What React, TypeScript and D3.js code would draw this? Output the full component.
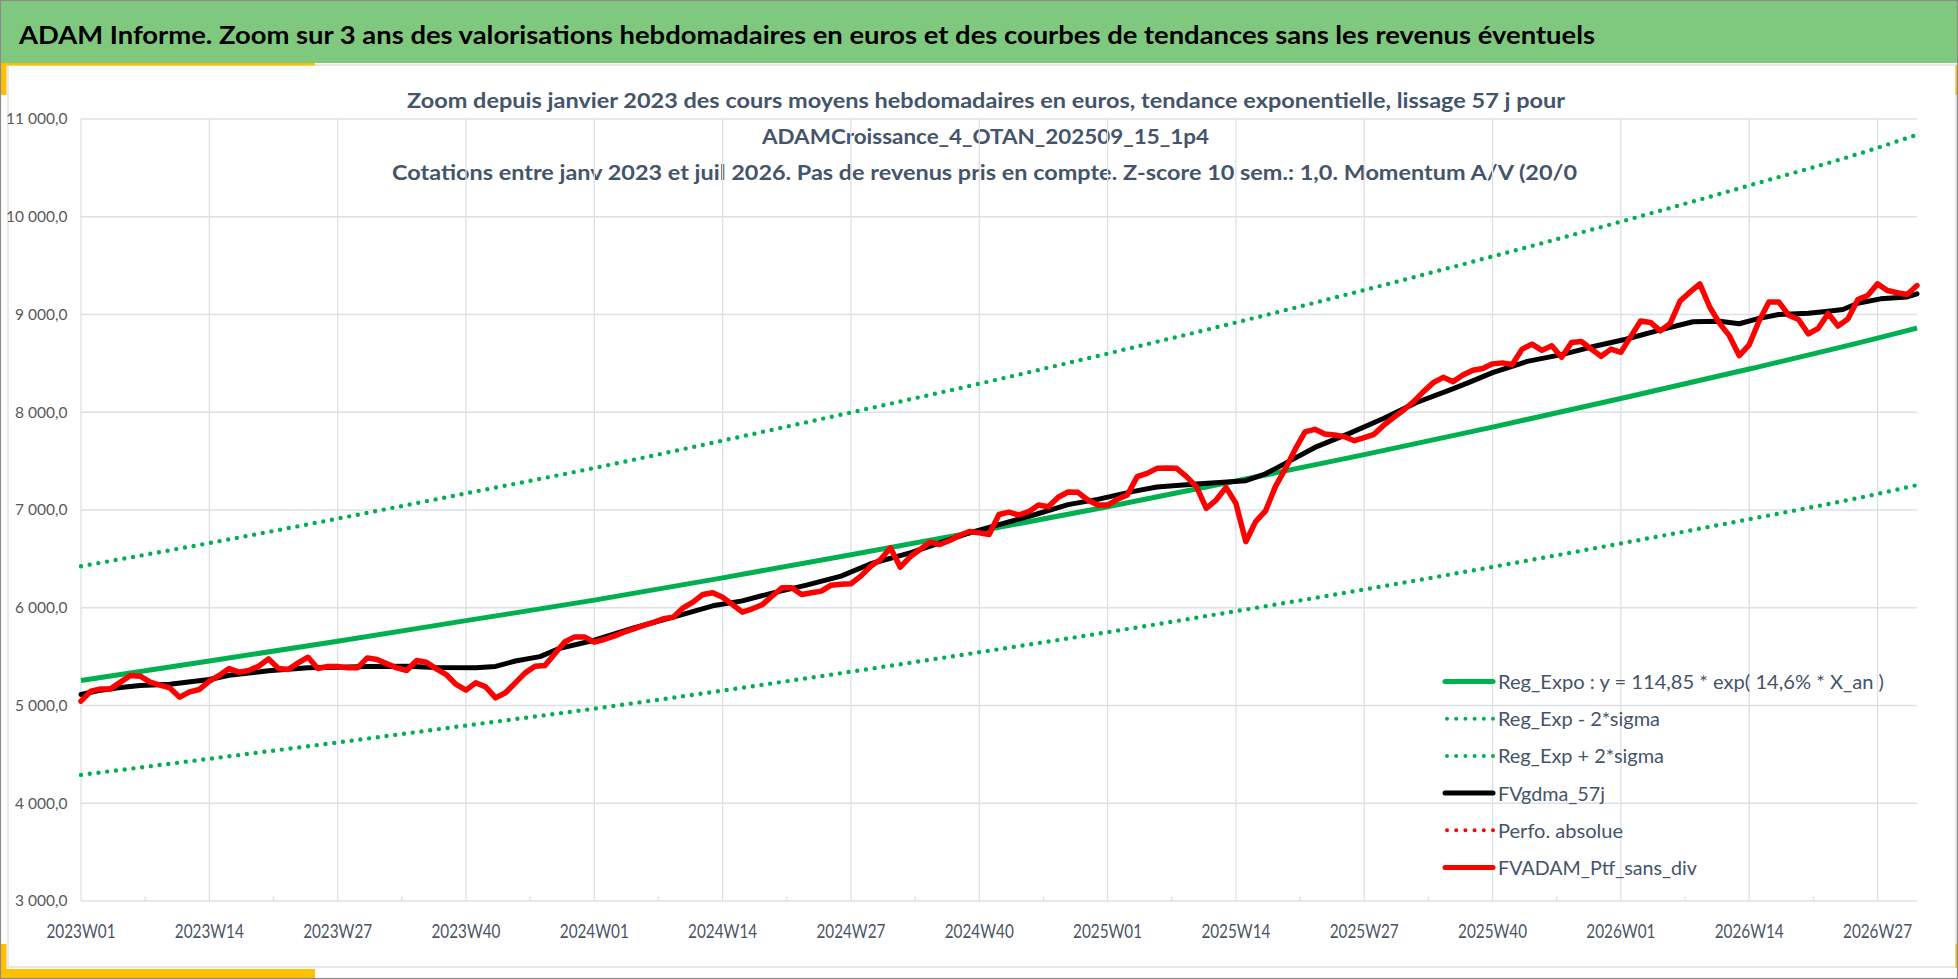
import React from "react";
import * as d3 from "d3";

// ---------------- DATA ----------------
const titleText =
  "ADAM Informe. Zoom sur 3 ans des valorisations hebdomadaires en euros et des courbes de tendances sans les revenus éventuels";
const subtitleLines = [
  "Zoom depuis janvier 2023 des cours moyens hebdomadaires  en euros, tendance exponentielle, lissage 57 j pour",
  "ADAMCroissance_4_OTAN_202509_15_1p4",
  "Cotations  entre janv 2023 et juil 2026. Pas de revenus pris en compte. Z-score 10 sem.: 1,0. Momentum A/V (20/0",
];

const xTickLabels = [
  "2023W01", "2023W14", "2023W27", "2023W40",
  "2024W01", "2024W14", "2024W27", "2024W40",
  "2025W01", "2025W14", "2025W27", "2025W40",
  "2026W01", "2026W14", "2026W27",
];
const weeksPerTick = 13;
const lastWeek = 186;
const yTicks = [3000, 4000, 5000, 6000, 7000, 8000, 9000, 10000, 11000];

// trend curves read at each labelled week
const trendWeeks = [0, 13, 26, 39, 52, 65, 78, 91, 104, 117, 130, 143, 156, 169, 182, 186];
const regExpo = [5256, 5455, 5658, 5868, 6078, 6306, 6542, 6784, 7034, 7296, 7566, 7848, 8140, 8442, 8758, 8862];
const regMinus2Sigma = [4290, 4455, 4622, 4795, 4968, 5153, 5346, 5545, 5750, 5965, 6187, 6418, 6658, 6906, 7165, 7255];
const regPlus2Sigma = [6425, 6662, 6912, 7170, 7430, 7710, 7998, 8292, 8600, 8918, 9250, 9594, 9950, 10320, 10705, 10840];

// smoothed 57 days moving average (week index, value)
const smaWeeks = [
  0, 2, 4, 6, 9, 13, 15, 19, 23, 26, 29, 33, 36, 40, 42, 44, 46.5, 48.5, 52, 56, 60, 64, 67, 70, 73.5, 77, 80, 84,
  87, 90, 93, 96.5, 100, 103, 106.5, 109, 113, 118, 120, 122, 125, 128.5, 132, 135.3, 138.7, 140.5, 143, 146.5, 150,
  153, 156.5, 160, 163.3, 166, 168, 170, 172, 175, 177, 178.5, 180, 182.3, 185, 186,
];
const smaValues = [
  5113, 5157, 5185, 5205, 5218, 5266, 5310, 5355, 5385, 5392, 5400, 5402, 5390, 5385, 5400, 5455, 5500, 5585, 5668,
  5795, 5904, 6020, 6070, 6150, 6231, 6323, 6450, 6562, 6664, 6766, 6850, 6949, 7055, 7109, 7188, 7235, 7266, 7300,
  7370, 7477, 7640, 7784, 7938, 8100, 8228, 8300, 8405, 8520, 8590, 8667, 8747, 8842, 8926, 8930, 8905, 8960, 9000,
  9012, 9034, 9051, 9115, 9160, 9180, 9212,
];

// weekly portfolio value without dividends, 2023W01 .. 2026W31
const ptfValues = [
  5044, 5147, 5170, 5170, 5239, 5307, 5300, 5239, 5208, 5180, 5085, 5140, 5164, 5249, 5307, 5378, 5341, 5358, 5402,
  5477, 5378, 5368, 5436, 5494, 5378, 5399, 5399, 5385, 5385, 5487, 5470, 5426, 5385, 5358, 5460, 5443, 5375, 5317,
  5215, 5157, 5232, 5191, 5078, 5130, 5232, 5334, 5402, 5409, 5530, 5650, 5702, 5702, 5648, 5675, 5710, 5750, 5784,
  5820, 5850, 5887, 5904, 5999, 6057, 6136, 6153, 6108, 6033, 5955, 5989, 6030, 6118, 6204, 6204, 6136, 6153, 6170,
  6231, 6240, 6245, 6323, 6425, 6494, 6613, 6415, 6521, 6596, 6671, 6647, 6688, 6739, 6780, 6766, 6749, 6954, 6978,
  6949, 6983, 7051, 7034, 7130, 7184, 7181, 7102, 7051, 7051, 7109, 7153, 7341, 7375, 7426, 7430, 7426, 7341, 7239,
  7017, 7102, 7232, 7068, 6676, 6881, 6990, 7239, 7420, 7620, 7800, 7825, 7777, 7767, 7750, 7709, 7740, 7774, 7870,
  7948, 8023, 8108, 8211, 8303, 8357, 8313, 8381, 8430, 8448, 8495, 8505, 8488, 8646, 8697, 8633, 8680, 8562, 8714,
  8724, 8646, 8572, 8646, 8613, 8774, 8933, 8919, 8832, 8909, 9138, 9229, 9313, 9077, 8909, 8781, 8579, 8690, 8933,
  9128, 9128, 8993, 8949, 8801, 8859, 9010, 8882, 8953, 9152, 9195, 9313, 9246, 9222, 9205, 9296,
];

const legendLabels = [
  "Reg_Expo : y = 114,85 * exp( 14,6% *  X_an )",
  "Reg_Exp - 2*sigma",
  "Reg_Exp + 2*sigma",
  "FVgdma_57j",
  "Perfo. absolue",
  "FVADAM_Ptf_sans_div",
];

// ---------------- STYLE ----------------
const W = 1958;
const H = 979;
const plot = { left: 81, right: 1917, top: 119, bottom: 901 };
const FONT = "Lato, 'Open Sans', 'DejaVu Sans', sans-serif";
const GREEN = "#00B050";
const RED = "#FF0000";
const GRID = "#DCE0E7";
const TEXT_SLATE = "#44546A";
const legendStyles = [
  { color: GREEN, dotted: false, width: 386 },
  { color: GREEN, dotted: true, width: 162 },
  { color: GREEN, dotted: true, width: 166 },
  { color: "#000000", dotted: false, width: 107 },
  { color: RED, dotted: true, width: 125 },
  { color: RED, dotted: false, width: 199 },
];

const frLocale = d3.formatLocale({ decimal: ",", thousands: "\u00a0", grouping: [3], currency: ["", "€"] });
const fmtY = frLocale.format(",.1f");

export default function App() {
  const x = d3.scaleLinear().domain([0, lastWeek]).range([plot.left, plot.right]);
  const y = d3.scaleLinear().domain([3000, 11000]).range([plot.bottom, plot.top]);

  const line = d3
    .line<[number, number]>()
    .x((d) => x(d[0]))
    .y((d) => y(d[1]));
  const smooth = d3
    .line<[number, number]>()
    .x((d) => x(d[0]))
    .y((d) => y(d[1]))
    .curve(d3.curveMonotoneX);

  const zip = (ws: number[], vs: number[]) => ws.map((w, i) => [w, vs[i]] as [number, number]);

  const majorWeeks = xTickLabels.map((_, i) => i * weeksPerTick);
  const minorWeeks = xTickLabels.map((_, i) => i * weeksPerTick + weeksPerTick / 2).filter((w) => w < lastWeek);

  const legendX0 = 1445;
  const legendX1 = 1493;
  const legendTextX = 1498;
  const legendBase0 = 689;
  const legendStep = 37.2;

  return (
    <svg
      width={W}
      height={H}
      viewBox={`0 0 ${W} ${H}`}
      style={{ position: "absolute", left: 0, top: 0, background: "#ffffff" }}
      fontFamily={FONT}
    >
      <rect x={0} y={0} width={W} height={H} fill="#ffffff" />
      {/* header */}
      <rect x={0} y={0} width={W} height={63} fill="#7FC97F" />
      <text x={19} y={43.5} fontSize={25.5} fontWeight={700} fill="#000000" textLength={1576} lengthAdjust="spacingAndGlyphs">
        {titleText}
      </text>
      {/* inner frame */}
      <rect x={8} y={65} width={1948} height={902} fill="none" stroke="#D9D9D9" strokeWidth={1.2} />
      {/* yellow accents */}
      <rect x={0} y={63} width={315} height={2.5} fill="#FFC000" />
      <rect x={0} y={63} width={6.5} height={32} fill="#FFC000" />
      <rect x={0} y={944} width={6.5} height={34} fill="#FFC000" />
      <rect x={0} y={969} width={315} height={9} fill="#FFC000" />
      <rect x={1955.5} y={65} width={2.5} height={30} fill="#FFC000" />
      <rect x={1955.5} y={944} width={2.5} height={24} fill="#FFC000" />
      {/* outer border */}
      <rect x={0.5} y={0.5} width={W - 1} height={H - 1} fill="none" stroke="#8C8C8C" strokeWidth={1.2} />

      {/* subtitles */}
      <g fill={TEXT_SLATE} fontWeight={700} fontSize={21}>
        <text x={407} y={108} textLength={1158} lengthAdjust="spacingAndGlyphs">
          {subtitleLines[0]}
        </text>
        <text x={762} y={144} textLength={447} lengthAdjust="spacingAndGlyphs">
          {subtitleLines[1]}
        </text>
        <text x={392} y={180} textLength={1185} lengthAdjust="spacingAndGlyphs">
          {subtitleLines[2]}
        </text>
      </g>

      {/* grid */}
      <g stroke={GRID} strokeWidth={1.3}>
        {yTicks.map((t) => (
          <line key={"h" + t} x1={plot.left} x2={plot.right} y1={y(t)} y2={y(t)} />
        ))}
        {majorWeeks.map((w) => (
          <line key={"v" + w} x1={x(w)} x2={x(w)} y1={plot.top} y2={plot.bottom} />
        ))}
        {minorWeeks.map((w) => (
          <line key={"m" + w} x1={x(w)} x2={x(w)} y1={plot.bottom - 4.5} y2={plot.bottom} />
        ))}
      </g>

      {/* y labels */}
      <g fill="#595959" fontSize={15.5} textAnchor="end">
        {yTicks.map((t) => (
          <text key={"yl" + t} x={67.5} y={y(t) + 5.3}>
            {fmtY(t)}
          </text>
        ))}
      </g>
      {/* x labels */}
      <g fill="#4A5465" fontSize={19} textAnchor="middle">
        {xTickLabels.map((lab, i) => (
          <text key={lab} x={x(majorWeeks[i])} y={937.5} textLength={69} lengthAdjust="spacingAndGlyphs">
            {lab}
          </text>
        ))}
      </g>

      {/* series */}
      <g fill="none" strokeLinejoin="round">
        <path d={smooth(zip(trendWeeks, regExpo)) || ""} stroke={GREEN} strokeWidth={5} />
        <path
          d={smooth(zip(trendWeeks, regMinus2Sigma)) || ""}
          stroke={GREEN}
          strokeWidth={4.4}
          strokeDasharray="0 8.8"
          strokeLinecap="round"
        />
        <path
          d={smooth(zip(trendWeeks, regPlus2Sigma)) || ""}
          stroke={GREEN}
          strokeWidth={4.4}
          strokeDasharray="0 8.8"
          strokeLinecap="round"
        />
        <path d={line(zip(smaWeeks, smaValues)) || ""} stroke="#000000" strokeWidth={5} strokeLinecap="round" />
        <path
          d={line(ptfValues.map((v, i) => [i, v] as [number, number])) || ""}
          stroke={RED}
          strokeWidth={5.5}
          strokeLinecap="round"
        />
      </g>

      {/* legend */}
      <g>
        {legendLabels.map((lab, i) => {
          const base = legendBase0 + i * legendStep;
          const st = legendStyles[i];
          return (
            <g key={lab}>
              <line
                x1={legendX0 + (st.dotted ? 2 : 0)}
                x2={legendX1}
                y1={base - 7.5}
                y2={base - 7.5}
                stroke={st.color}
                strokeWidth={st.dotted ? 4 : 5}
                strokeDasharray={st.dotted ? "0 9.2" : undefined}
                strokeLinecap="round"
              />
              <text
                x={legendTextX}
                y={base}
                fontSize={20}
                fill={TEXT_SLATE}
                textLength={st.width}
                lengthAdjust="spacingAndGlyphs"
              >
                {lab}
              </text>
            </g>
          );
        })}
      </g>
    </svg>
  );
}
